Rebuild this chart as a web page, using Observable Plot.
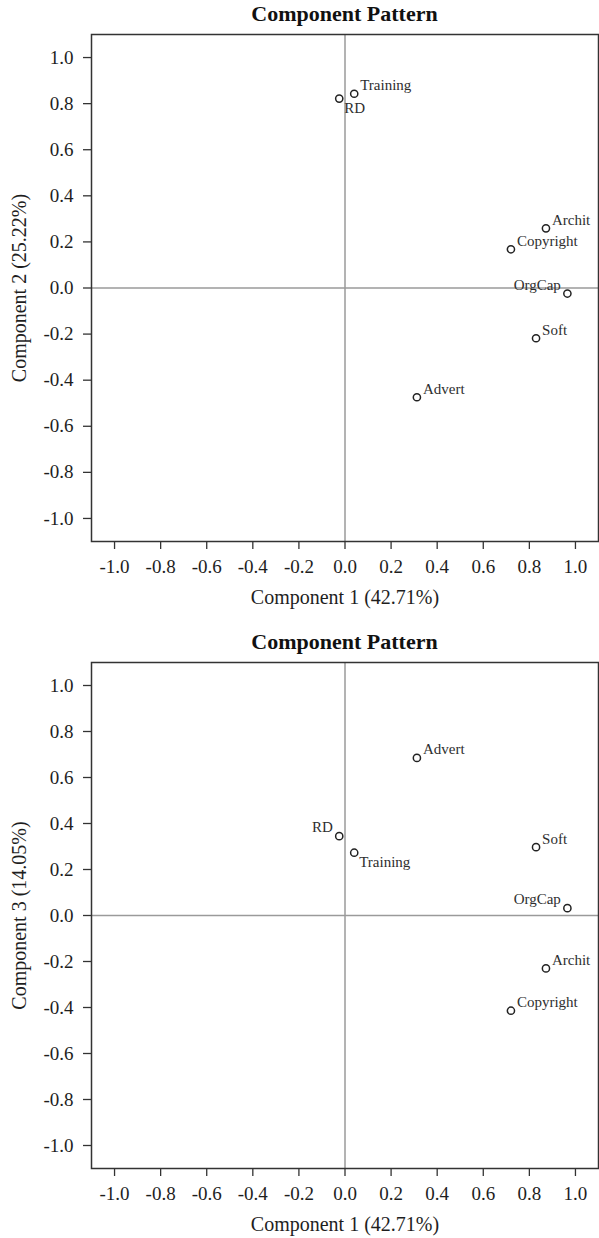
<!DOCTYPE html>
<html><head><meta charset="utf-8">
<script src="https://cdn.jsdelivr.net/npm/d3@7"></script>
<script src="https://cdn.jsdelivr.net/npm/@observablehq/plot@0.6"></script>
<style>
body{margin:0;background:#fff;font-family:"Liberation Serif","Times New Roman",serif;}
.title{height:28px;line-height:28px;font-weight:bold;font-size:22px;text-align:center;padding-left:91px;padding-right:1px;color:#111;width:507px;}
svg{display:block;}
</style></head><body>
<div id="root"></div>
<script>
const variables = ["Training","RD","Archit","Copyright","OrgCap","Soft","Advert"];
const comp1 = [0.04,-0.025,0.872,0.720,0.965,0.829,0.312];
const comp2 = [0.843,0.822,0.259,0.168,-0.024,-0.218,-0.474];
const comp3 = [0.273,0.345,-0.230,-0.414,0.032,0.297,0.685];
const labelPos2 = ["tr","br","tr","tr","tl","tr","tr"];
const labelPos3 = ["br","tl","tr","tr","tl","tr","tr"];
const tickValues = [-1.0,-0.8,-0.6,-0.4,-0.2,0.0,0.2,0.4,0.6,0.8,1.0];
const chartTitle = "Component Pattern";
const xLabel = "Component 1 (42.71%)";
const yLabels = ["Component 2 (25.22%)","Component 3 (14.05%)"];

const root = document.getElementById("root");
const panels = [
  {yv: comp2, pos: labelPos2, ylab: yLabels[0], height: 600, mb: 87},
  {yv: comp3, pos: labelPos3, ylab: yLabels[1], height: 582, mb: 70}
];
const offs = {
  tr: {dx: 6, dy: -8.5, textAnchor: "start"},
  br: {dx: 5, dy: 9.5, textAnchor: "start"},
  tl: {dx: -6.5, dy: -8.7, textAnchor: "end"}
};
for (const p of panels) {
  const data = variables.map((v, i) => ({name: v, x: comp1[i], y: p.yv[i], pos: p.pos[i]}));
  const t = document.createElement("div");
  t.className = "title";
  t.textContent = chartTitle;
  root.appendChild(t);
  const textMarks = Object.entries(offs).map(([k, o]) =>
    Plot.text(data.filter(d => d.pos === k), {x: "x", y: "y", text: "name", fontSize: 15, fill: "#2e2e2e", ...o}));
  const chart = Plot.plot({
    width: 599, height: p.height,
    marginTop: 6, marginBottom: p.mb, marginLeft: 91, marginRight: 1,
    style: {fontFamily: "'Liberation Serif','Times New Roman',serif", fontSize: "19px", background: "#fff", color: "#1e1e1e"},
    x: {domain: [-1.1, 1.1]},
    y: {domain: [-1.1, 1.1]},
    marks: [
      Plot.ruleX([0], {stroke: "#9a9a9a", strokeWidth: 1.5}),
      Plot.ruleY([0], {stroke: "#9a9a9a", strokeWidth: 1.5}),
      Plot.frame({stroke: "#333", strokeWidth: 1.5}),
      Plot.axisX({ticks: tickValues, tickSize: 8, tickPadding: 10, tickFormat: d => d.toFixed(1),
        label: null, fontSize: 19, stroke: "#333", strokeWidth: 1.3}),
      Plot.axisX({ticks: [], tickSize: 0, label: xLabel, labelAnchor: "center", labelArrow: "none", labelOffset: 62, fontSize: 20}),
      Plot.axisY({ticks: tickValues, tickSize: 8, tickPadding: 10, tickFormat: d => d.toFixed(1),
        label: null, fontSize: 19, stroke: "#333", strokeWidth: 1.3}),
      Plot.axisY({ticks: [], tickSize: 0, label: p.ylab, labelAnchor: "center", labelArrow: "none", labelOffset: 80, fontSize: 20}),
      Plot.dot(data, {x: "x", y: "y", r: 3.6, stroke: "#222", strokeWidth: 1.5, fill: "none"}),
      ...textMarks
    ]
  });
  root.appendChild(chart);
}
</script>
</body></html>
